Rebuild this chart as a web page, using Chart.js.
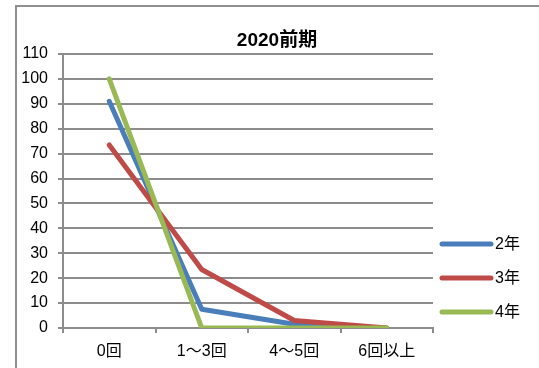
<!DOCTYPE html>
<html>
<head>
<meta charset="utf-8">
<script src="https://cdn.jsdelivr.net/npm/chart.js@4.4.0/dist/chart.umd.min.js"></script>
<style>
html,body{margin:0;padding:0;background:#fff;}
#c{display:block;}
</style>
</head>
<body>
<canvas id="c" width="539" height="368"></canvas>
<script>
const chartTitle = "2020前期";
const categories = ["0回", "1～3回", "4～5回", "6回以上"];
const seriesNames = ["2年", "3年", "4年"];
const values2 = [91, 7.5, 1.5, 0];
const values3 = [73.5, 23.5, 3, 0];
const values4 = [100, 0, 0, 0];
const yTicks = [0, 10, 20, 30, 40, 50, 60, 70, 80, 90, 100, 110];

const colors = ["#4a7ebb", "#be4b48", "#98b954"];
const FONT = '"Liberation Sans", "Noto Sans CJK JP", sans-serif';

const framePlugin = {
  id: 'frame',
  beforeDraw(chart) {
    const ctx = chart.ctx;
    ctx.save();
    ctx.fillStyle = '#fff';
    ctx.fillRect(0, 0, chart.width, chart.height);
    ctx.strokeStyle = '#8f8f8f';
    ctx.lineWidth = 2;
    ctx.strokeRect(16, 6, 600, 400);
    ctx.restore();
  },
  afterDraw(chart) {
    const ctx = chart.ctx;
    ctx.save();
    // title
    ctx.fillStyle = '#000';
    ctx.font = 'bold 19px ' + FONT;
    ctx.textAlign = 'center';
    ctx.textBaseline = 'middle';
    ctx.fillText(chartTitle, 277, 41);
    // legend
    ctx.font = '16px ' + FONT;
    ctx.textAlign = 'left';
    const ys = [244, 278, 312];
    chart.data.datasets.forEach((ds, i) => {
      ctx.strokeStyle = ds.borderColor;
      ctx.lineWidth = 5;
      ctx.lineCap = 'round';
      ctx.beginPath();
      ctx.moveTo(442, ys[i]);
      ctx.lineTo(491, ys[i]);
      ctx.stroke();
      ctx.fillStyle = '#000';
      ctx.fillText(ds.label, 495, ys[i] + 1);
    });
    ctx.restore();
  }
};

const mk = (label, data, color, order) => ({
  label, data, borderColor: color, backgroundColor: color,
  borderWidth: 5, pointRadius: 0, tension: 0,
  borderCapStyle: 'round', borderJoinStyle: 'round', order
});

new Chart(document.getElementById('c'), {
  type: 'line',
  data: {
    labels: categories,
    datasets: [
      mk(seriesNames[0], values2, colors[0], 3),
      mk(seriesNames[1], values3, colors[1], 2),
      mk(seriesNames[2], values4, colors[2], 1)
    ]
  },
  options: {
    responsive: false,
    animation: false,
    devicePixelRatio: 1,
    layout: { padding: { left: 0, top: 54, right: 106, bottom: 0 } },
    plugins: { legend: { display: false }, title: { display: false }, tooltip: { enabled: false } },
    scales: {
      x: {
        offset: true,
        grid: { offset: true, drawOnChartArea: false, drawTicks: true, tickLength: 5, color: '#8c8c8c', lineWidth: 2 },
        border: { display: true, color: '#8c8c8c', width: 2 },
        ticks: { color: '#000', font: { family: FONT, size: 16 }, padding: 9, maxRotation: 0 },
        afterFit(scale) { scale.height = 40; }
      },
      y: {
        min: 0, max: 110,
        afterBuildTicks(scale) { scale.ticks = yTicks.map(v => ({ value: v })); },
        grid: { drawOnChartArea: true, drawTicks: true, tickLength: 5, color: '#8c8c8c', lineWidth: 2 },
        border: { display: true, color: '#8c8c8c', width: 2 },
        ticks: { color: '#000', font: { family: FONT, size: 16 }, padding: 10 },
        afterFit(scale) { scale.width = 63; }
      }
    }
  },
  plugins: [framePlugin]
});
</script>
</body>
</html>
